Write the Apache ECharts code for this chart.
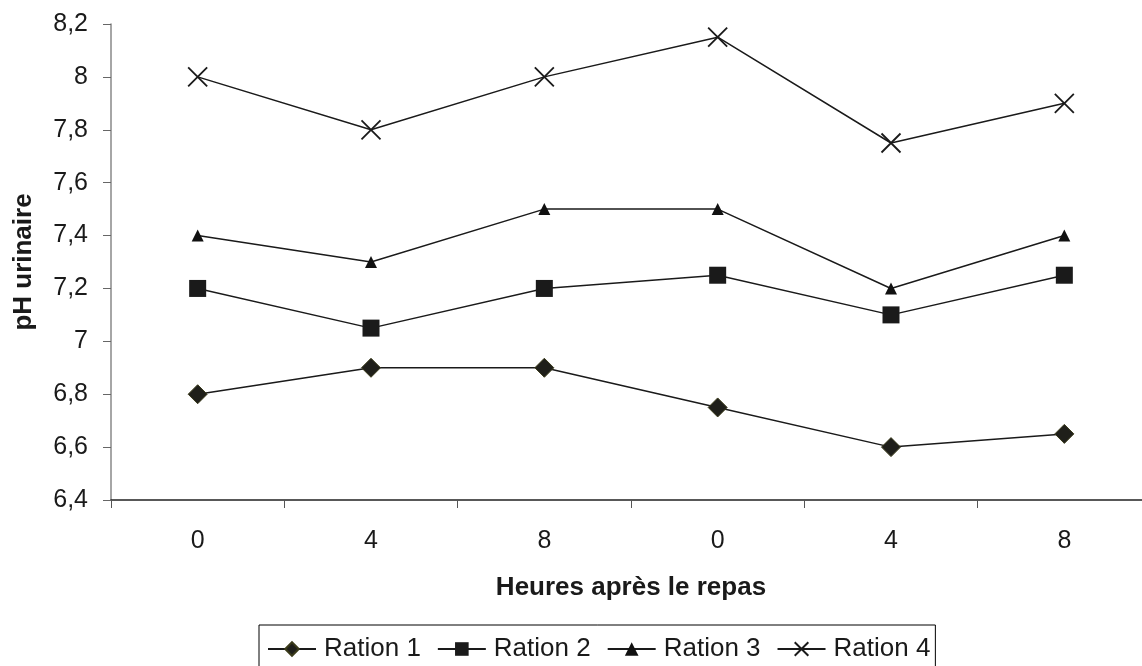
<!DOCTYPE html>
<html>
<head>
<meta charset="utf-8">
<script src="https://cdn.jsdelivr.net/npm/echarts@6/dist/echarts.min.js"></script>
<style>
html,body{margin:0;padding:0;background:#fff;}
#chart{width:1142px;height:666px;}
</style>
</head>
<body>
<div id="chart"></div>
<script>
var categories = ['0', '4', '8', '0', '4', '8'];
var ration1 = [6.8, 6.9, 6.9, 6.75, 6.6, 6.65];
var ration2 = [7.2, 7.05, 7.2, 7.25, 7.1, 7.25];
var ration3 = [7.4, 7.3, 7.5, 7.5, 7.2, 7.4];
var ration4 = [8.0, 7.8, 8.0, 8.15, 7.75, 7.9];
var seriesNames = ['Ration 1', 'Ration 2', 'Ration 3', 'Ration 4'];
var yTitle = 'pH urinaire';
var xTitle = 'Heures après le repas';

var FONT = 'Liberation Sans, Arial, sans-serif';
var crossPath = 'path://M0,0L10,10M10,0L0,10';

var chart = echarts.init(document.getElementById('chart'), null, {renderer: 'canvas'});

function mkSeries(name, data, symbol, size, color, border, bw) {
  return {
    name: name,
    type: 'line',
    data: data,
    symbol: symbol,
    symbolSize: size,
    showAllSymbol: true,
    lineStyle: {color: '#1a1a1a', width: 1.5},
    itemStyle: {color: color, borderColor: border, borderWidth: bw},
    emphasis: {disabled: true},
    animation: false,
    z: 3
  };
}

var option = {
  backgroundColor: '#fff',
  animation: false,
  textStyle: {fontFamily: FONT},
  grid: {left: 111, top: 24, right: -9, bottom: 166, containLabel: false, outerBoundsMode: 'none'},
  legend: {
    data: seriesNames,
    left: 259,
    top: 625,
    padding: [11, 5, 8, 8],
    itemGap: 16,
    itemWidth: 48,
    itemHeight: 17,
    borderColor: '#000',
    borderWidth: 1,
    textStyle: {fontFamily: FONT, fontSize: 26, color: '#1a1a1a', padding: [0, 0, 0, 3]},
    selectedMode: false
  },
  xAxis: {
    type: 'category',
    data: categories,
    boundaryGap: true,
    name: xTitle,
    nameLocation: 'middle',
    nameGap: 75,
    nameTextStyle: {fontFamily: FONT, fontSize: 26, fontWeight: 'bold', color: '#1a1a1a'},
    axisLine: {lineStyle: {color: '#222', width: 1.5}},
    axisTick: {show: true, alignWithLabel: false, length: 8, lineStyle: {color: '#555', width: 1}},
    axisLabel: {fontFamily: FONT, fontSize: 25, color: '#1a1a1a', margin: 29},
    splitLine: {show: false}
  },
  yAxis: {
    type: 'value',
    min: 6.4,
    max: 8.2,
    interval: 0.2,
    name: yTitle,
    nameLocation: 'middle',
    nameGap: 74,
    nameRotate: 90,
    nameTextStyle: {fontFamily: FONT, fontSize: 26, fontWeight: 'bold', color: '#1a1a1a'},
    axisLine: {show: true, lineStyle: {color: '#888', width: 1.5}},
    axisTick: {show: true, length: 8, lineStyle: {color: '#666', width: 1}},
    axisLabel: {
      fontFamily: FONT, fontSize: 25, color: '#1a1a1a', margin: 23,
      formatter: function (v) { return String(Math.round(v * 10) / 10).replace('.', ','); }
    },
    splitLine: {show: false}
  },
  series: [
    mkSeries(seriesNames[0], ration1, 'diamond', 19, '#1f1f1a', '#3a3a1a', 1),
    mkSeries(seriesNames[1], ration2, 'rect', 17, '#1a1a1a', '#1a1a1a', 0),
    mkSeries(seriesNames[2], ration3, 'triangle', 12, '#111', '#111', 0),
    mkSeries(seriesNames[3], ration4, crossPath, 19, 'none', '#1a1a1a', 1.8)
  ]
};
chart.setOption(option);
</script>
</body>
</html>
